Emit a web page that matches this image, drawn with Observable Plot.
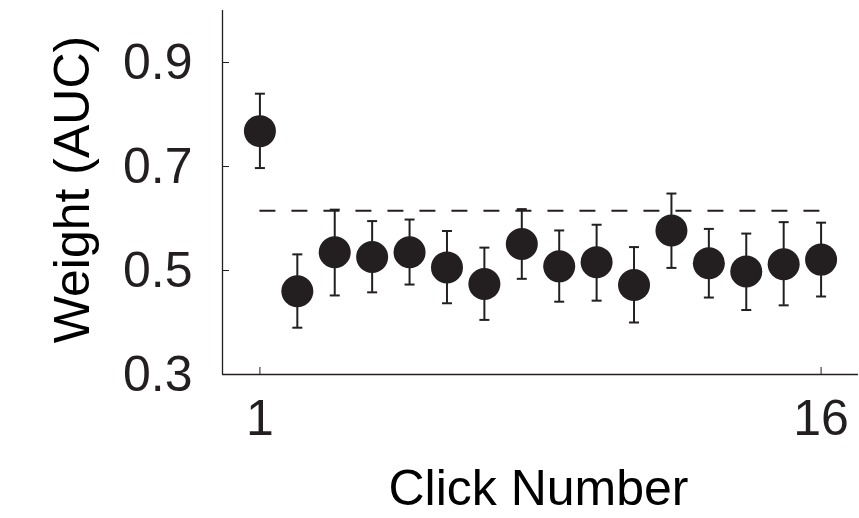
<!DOCTYPE html>
<html><head><meta charset="utf-8">
<script src="https://cdn.jsdelivr.net/npm/d3@7"></script>
<script src="https://cdn.jsdelivr.net/npm/@observablehq/plot@0.6"></script>
<style>html,body{margin:0;padding:0;background:#fff;}</style>
</head><body><div id="chart"></div>
<script>
// Data
const clicks  = [1, 2, 3, 4, 5, 6, 7, 8, 9, 10, 11, 12, 13, 14, 15, 16];
const weights = [0.768, 0.460, 0.535, 0.526, 0.535, 0.506, 0.474, 0.551, 0.508, 0.516, 0.472, 0.577, 0.514, 0.498, 0.512, 0.521];
const upper   = [0.840, 0.531, 0.617, 0.595, 0.598, 0.576, 0.544, 0.618, 0.577, 0.588, 0.545, 0.648, 0.580, 0.571, 0.593, 0.592];
const lower   = [0.697, 0.390, 0.452, 0.458, 0.473, 0.437, 0.405, 0.484, 0.440, 0.442, 0.400, 0.505, 0.448, 0.424, 0.433, 0.450];
const reference = [0.615];
const yTicks = [0.3, 0.5, 0.7, 0.9];
const xTicks = [1, 16];
const yLabel = ["Weight (AUC)"];
const xLabel = ["Click Number"];

const ink = "#231f20";
const capSymbol = {draw(ctx, size) { const w = Math.sqrt(size / Math.PI); ctx.moveTo(-w, 0); ctx.lineTo(w, 0); }};
const data = clicks.map((c, i) => ({click: c, weight: weights[i], lo: lower[i], hi: upper[i]}));

const chart = Plot.plot({
  width: 859, height: 518,
  marginLeft: 222, marginRight: 1, marginTop: 10, marginBottom: 144,
  style: {fontFamily: "'Liberation Sans', Arial, Helvetica, sans-serif", background: "#fff", color: ink},
  x: {domain: [0, 17]},
  y: {domain: [0.3, 1.0]},
  marks: [
    Plot.ruleX([0], {stroke: ink, strokeWidth: 1.3}),
    Plot.ruleY([0.3], {stroke: ink, strokeWidth: 1.3}),
    Plot.axisY({ticks: yTicks, tickFormat: d => d.toFixed(1), tickSize: -7, tickPadding: 37, fontSize: 50, label: null}),
    Plot.axisX({ticks: xTicks, tickFormat: d => String(d), tickSize: -7, tickPadding: 32, fontSize: 50, label: null}),
    Plot.ruleY(reference, {x1: clicks[0], x2: clicks[clicks.length - 1], stroke: ink, strokeWidth: 2, strokeDasharray: "16,16"}),
    Plot.ruleX(data, {x: "click", y1: "lo", y2: "hi", stroke: ink, strokeWidth: 2}),
    Plot.dot(data, {x: "click", y: "hi", symbol: capSymbol, r: 5, stroke: ink, strokeWidth: 2, fill: "none"}),
    Plot.dot(data, {x: "click", y: "lo", symbol: capSymbol, r: 5, stroke: ink, strokeWidth: 2, fill: "none"}),
    Plot.dot(data, {x: "click", y: "weight", r: 16, fill: ink, stroke: "none"}),
    Plot.text(yLabel, {text: d => d, frameAnchor: "left", textAnchor: "middle", lineAnchor: "middle", rotate: -90, dx: -150, dy: -3, fontSize: 50, fill: "#000"}),
    Plot.text(xLabel, {text: d => d, frameAnchor: "bottom", textAnchor: "middle", lineAnchor: "middle", dy: 114, dx: -2, fontSize: 50, fill: "#000"})
  ]
});
document.getElementById("chart").appendChild(chart);
</script>
</body></html>
